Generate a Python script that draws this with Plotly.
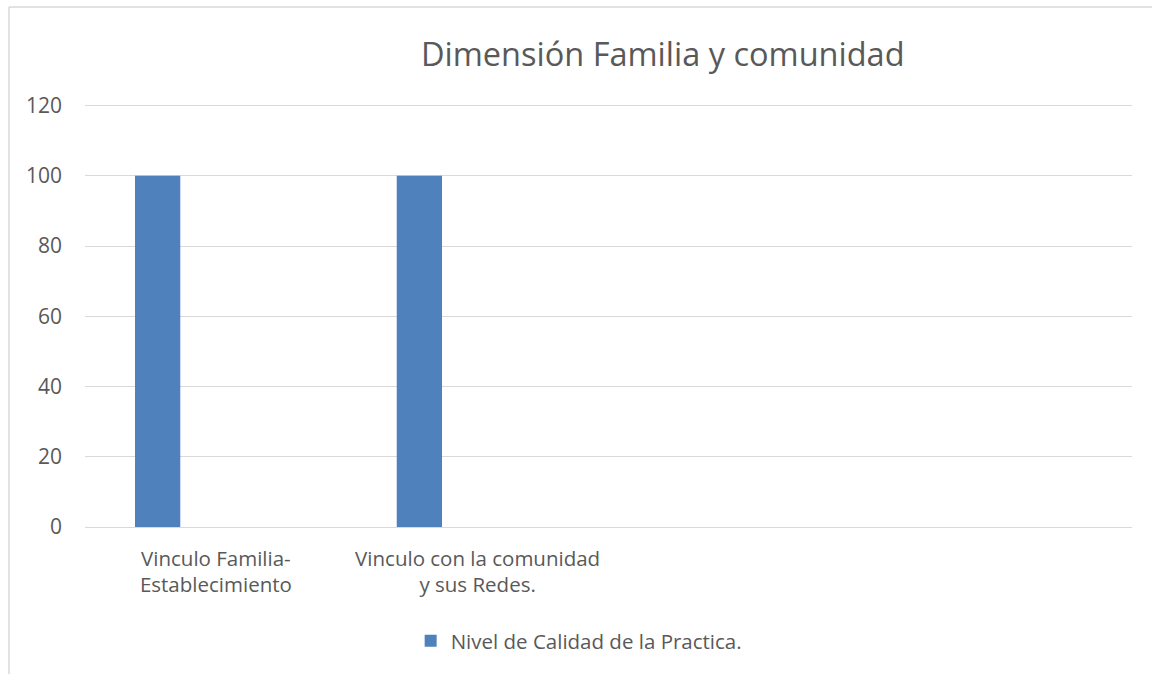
import plotly.graph_objects as go

categories = ["Vinculo Familia-<br>Establecimiento", "Vinculo con la comunidad<br>y sus Redes.", "", ""]
series_name = "Nivel de Calidad de la Practica."
values = [100, 100, None, None]
y_ticks = [0, 20, 40, 60, 80, 100, 120]

FONT = "Open Sans"
TXT = "#595959"
GRID = "#d9d9d9"

x_pos = list(range(len(categories)))

fig = go.Figure()
fig.add_trace(go.Bar(
    x=x_pos, y=values, name=series_name,
    marker=dict(color="#4f81bd", line=dict(width=0)),
    width=0.173, offset=-0.309,
    showlegend=True,
))

fig.update_layout(
    width=1152, height=674,
    margin=dict(l=85, r=20, t=102, b=147),
    paper_bgcolor="white", plot_bgcolor="white",
    font=dict(family=FONT, color=TXT, size=20),
    showlegend=True,
    legend=dict(orientation="h", x=0.4715, xanchor="center", y=-0.268, yanchor="middle",
                font=dict(size=20.5, color=TXT, family=FONT), itemwidth=30),
    annotations=[dict(text="Dimensión Familia y comunidad", xref="paper", yref="paper",
                      x=0.5525, y=1.115, xanchor="center", yanchor="middle", showarrow=False,
                      font=dict(size=32.5, color=TXT, family=FONT))],
    shapes=[
        dict(type="line", xref="paper", yref="paper", x0=-0.0726, x1=-0.0726, y0=1.2235, y1=-0.5,
             line=dict(color=GRID, width=1.5)),
        dict(type="line", xref="paper", yref="paper", x0=-0.0726, x1=1.1, y0=1.2235, y1=1.2235,
             line=dict(color=GRID, width=1.5)),
    ],
)
fig.update_xaxes(range=[-0.5, len(categories) - 0.5], tickvals=x_pos, ticktext=categories,
                 showgrid=False, zeroline=False, showline=False, ticks="",
                 ticklabelstandoff=17,
                 tickfont=dict(size=20.5, color=TXT, family=FONT))
fig.update_yaxes(range=[0, 121], tickvals=y_ticks, showgrid=True, gridcolor=GRID, gridwidth=1.3,
                 zeroline=True, zerolinecolor=GRID, zerolinewidth=1.3, showline=False, ticks="",
                 ticklabelstandoff=22, tickfont=dict(size=21, color=TXT, family=FONT))

fig.write_html("out.html", config={"displayModeBar": False},
               post_script="document.body.style.margin='0';document.body.style.overflow='hidden';")
